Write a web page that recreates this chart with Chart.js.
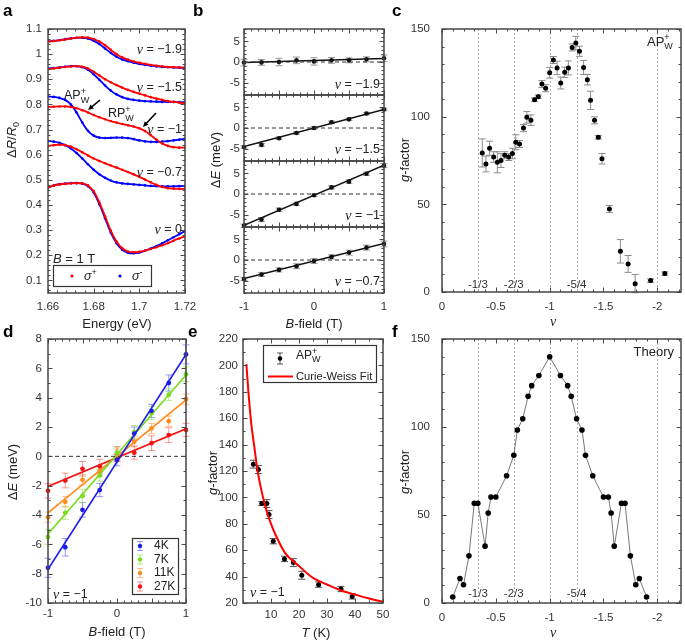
<!DOCTYPE html>
<html><head><meta charset="utf-8">
<script src="https://cdn.jsdelivr.net/npm/chart.js@4"></script>
<style>
html,body{margin:0;padding:0;background:#fff;}
#wrap{position:relative;width:685px;height:642px;overflow:hidden;background:#fff;}
#wrap canvas{position:absolute;left:0;top:0;}
</style></head><body><div id="wrap"></div>
<script>
// ---------------- DATA ----------------
// panel a : reflectance spectra (B = 1 T)
const energy = [1.66,1.6625,1.665,1.6675,1.67,1.6725,1.675,1.6775,1.68,1.6825,1.685,1.6875,1.69,1.6925,1.695,1.6975,1.7,1.7025,1.705,1.7075,1.71,1.7125,1.715,1.7175,1.72];
const sigPlus_nu19  = [1.050,1.052,1.055,1.058,1.062,1.065,1.067,1.066,1.060,1.050,1.035,1.017,1.000,0.987,0.978,0.971,0.966,0.961,0.957,0.954,0.951,0.949,0.948,0.947,0.946];
const sigMinus_nu19 = [1.050,1.053,1.056,1.060,1.063,1.065,1.065,1.062,1.053,1.040,1.022,1.005,0.990,0.979,0.972,0.966,0.961,0.957,0.954,0.951,0.949,0.948,0.947,0.946,0.946];
const sigPlus_nu15  = [0.940,0.943,0.946,0.949,0.951,0.952,0.950,0.943,0.930,0.915,0.900,0.888,0.877,0.867,0.858,0.850,0.843,0.836,0.829,0.823,0.818,0.813,0.810,0.807,0.805];
const sigMinus_nu15 = [0.943,0.945,0.947,0.950,0.952,0.952,0.948,0.938,0.920,0.898,0.875,0.855,0.840,0.829,0.822,0.818,0.815,0.813,0.812,0.811,0.810,0.810,0.810,0.809,0.809];
const sigPlus_nu10  = [0.790,0.791,0.792,0.792,0.790,0.785,0.777,0.768,0.758,0.749,0.741,0.734,0.728,0.722,0.717,0.712,0.705,0.694,0.678,0.660,0.645,0.635,0.630,0.628,0.628];
const sigMinus_nu10 = [0.832,0.830,0.826,0.818,0.800,0.768,0.728,0.695,0.676,0.668,0.666,0.667,0.668,0.668,0.666,0.662,0.657,0.653,0.651,0.651,0.652,0.654,0.657,0.660,0.663];
const sigPlus_nu07  = [0.635,0.638,0.640,0.638,0.632,0.622,0.610,0.597,0.585,0.575,0.566,0.557,0.549,0.540,0.531,0.522,0.512,0.501,0.490,0.480,0.472,0.467,0.465,0.464,0.464];
const sigMinus_nu07 = [0.655,0.652,0.647,0.638,0.625,0.607,0.585,0.562,0.540,0.522,0.508,0.497,0.490,0.486,0.484,0.482,0.480,0.478,0.476,0.475,0.474,0.474,0.474,0.475,0.476];
const sigPlus_nu0   = [0.470,0.477,0.482,0.484,0.486,0.487,0.486,0.478,0.455,0.410,0.355,0.298,0.255,0.228,0.215,0.212,0.214,0.219,0.225,0.232,0.240,0.248,0.258,0.267,0.276];
const sigMinus_nu0  = [0.468,0.478,0.483,0.485,0.487,0.487,0.485,0.475,0.450,0.403,0.347,0.290,0.248,0.222,0.210,0.208,0.211,0.218,0.227,0.237,0.248,0.260,0.272,0.284,0.296];
const aTicksX = [1.66,1.68,1.7,1.72];
const aTicksY = [0.1,0.2,0.3,0.4,0.5,0.6,0.7,0.8,0.9,1,1.1];

// panel b : Zeeman splitting vs B
const bField = [-1,-0.75,-0.5,-0.25,0,0.25,0.5,0.75,1];
const dE_nu19 = [-0.15,-0.1,0,0.4,0.15,0.4,0.4,0.65,0.9];
const err_nu19 = [0.8,0.7,0.9,0.8,0.9,0.7,0.6,0.6,0.8];
const fit_nu19 = [-0.15,0.85];
const dE_nu15 = [-4.6,-4.1,-2.5,-1.2,0,1.4,2.1,3.5,4.5];
const err_nu15 = [0.3,0.3,0.3,0.3,0.3,0.3,0.3,0.3,0.3];
const fit_nu15 = [-4.5,4.5];
const dE_nu10 = [-7.7,-6.2,-3.8,-2.4,-0.3,1.6,3.0,4.9,6.9];
const err_nu10 = [0.4,0.5,0.4,0.4,0.3,0.4,0.4,0.4,0.5];
const fit_nu10 = [-7.6,7.0];
const dE_nu07 = [-4.6,-3.5,-2.4,-1.5,-0.25,0.75,1.8,3.0,3.9];
const err_nu07 = [0.4,0.5,0.5,0.6,0.6,0.5,0.6,0.6,0.7];
const fit_nu07 = [-4.5,4.0];
const bTicksX = [-1,0,1];
const bTicksY = [-5,0,5];

// panel c : measured g-factor vs filling factor
const nuExp = [-0.374,-0.408,-0.442,-0.48,-0.514,-0.548,-0.583,-0.62,-0.654,-0.685,-0.72,-0.757,-0.788,-0.826,-0.86,-0.894,-0.928,-0.963,-1.0,-1.034,-1.069,-1.103,-1.14,-1.174,-1.209,-1.243,-1.277,-1.315,-1.35,-1.38,-1.417,-1.452,-1.486,-1.555,-1.657,-1.729,-1.794,-1.938,-2.07];
const gExp = [79.3,73,82,77,74,75,78,77,79,85.4,84.4,93.5,99.6,98,109.7,111.4,118.6,116.2,125,132.3,127.8,119.2,125.3,127.8,139.5,142,137.3,128.1,121.1,109.3,97.9,88.2,76,47.3,23.2,16,4.75,6.5,10.5];
const gErr = [8,4.5,4,3,6,4,2,2,3,4.3,2,2,3.3,3,1,1,2,2,3,2,3.8,3.4,3,4,2,3.8,2.9,4,3,5.2,2,1,3,2,6.7,4.8,5.2,1,1];
const fracLines = [-1/3,-2/3,-1,-5/4,-2];
const fracLabels = ['-1/3','-2/3','','-5/4',''];
const nuTicks = [0,-0.5,-1,-1.5,-2];
const gTicks = [0,50,100,150];

// panel d : splitting vs B at several temperatures (nu = -1)
const dE_4K  = [-7.6,-6.2,-3.65,-2.3,-0.25,1.55,3.1,5.0,6.95];
const err_4K = [0.65,0.6,0.5,0.45,0.4,0.45,0.45,0.55,0.65];
const fit_4K = [-7.7,6.95];
const dE_7K  = [-5.5,-3.85,-2.7,-1.3,0.25,1.65,2.95,4.2,5.6];
const err_7K = [0.5,0.45,0.45,0.4,0.4,0.45,0.45,0.4,0.5];
const fit_7K = [-5.3,5.55];
const dE_11K  = [-4.15,-3.1,-1.6,-1.0,0.1,1.0,1.9,2.4,3.9];
const err_11K = [0.35,0.35,0.35,0.35,0.4,0.35,0.35,0.35,0.35];
const fit_11K = [-3.85,3.85];
const dE_27K  = [-2.35,-1.65,-0.85,-0.7,0.15,0.25,0.9,1.45,1.8];
const err_27K = [0.5,0.5,0.5,0.5,0.5,0.45,0.5,0.5,0.45];
const fit_27K = [-2.05,1.88];
const tempLabels = ['4K','7K','11K','27K'];
const dTicksY = [-10,-8,-6,-4,-2,0,2,4,6,8];

// panel e : g-factor vs temperature
const tempK = [3.7,5.5,6.7,8.5,9.3,10.8,14.8,18,21,27,35,39];
const gT = [125.2,121.1,95.3,95.3,87,66.8,53.4,50.6,41,33.9,30.6,25];
const gTErr = [3,3,1.5,3,3,2,2,3,3,2,2,2];
const cwT = [1.2,2,3,4,5,6,8,10,12,15,20,25,30,35,40,45,50];
const cwG = [201,178,155,139,123,111,93,80,70,58,48,39,34,29.5,26.4,23.4,21];
const eTicksX = [10,20,30,40,50];
const eTicksY = [20,40,60,80,100,120,140,160,180,200,220];

// panel f : theory g-factor
const nuTh = [-0.1,-0.167,-0.2,-0.25,-0.3,-0.333,-0.4,-0.429,-0.455,-0.5,-0.6,-0.667,-0.7,-0.75,-0.8,-0.833,-0.9,-1.0,-1.1,-1.167,-1.2,-1.25,-1.3,-1.333,-1.4,-1.5,-1.545,-1.571,-1.6,-1.667,-1.7,-1.75,-1.8,-1.833,-1.9];
const gTh = [3.4,13.9,10.4,26.8,56.7,56.7,32.3,51.1,60.2,60.2,72.3,83.9,98.3,104.7,117.5,123.5,129.3,139.9,129.3,123.5,117.5,104.7,98.3,83.9,72.3,60.2,60.2,51.1,32.3,56.7,56.7,26.8,10.4,13.9,3.4];

// ---------------- HELPERS ----------------
const SANS = '"Liberation Sans", Arial, Helvetica, sans-serif';
const SERIF = '"Liberation Serif", "Times New Roman", serif';
const W = 685, H = 642;
const wrap = document.getElementById('wrap');
const pts = (xs, ys) => xs.map((x, i) => ({x, y: ys[i]}));

function rich(ctx, parts, x, y, o = {}) {
  const size = o.size || 12.5;
  ctx.save();
  ctx.translate(x, y);
  if (o.rot) ctx.rotate(o.rot);
  ctx.fillStyle = o.color || '#222';
  ctx.textBaseline = 'middle'; ctx.textAlign = 'left';
  const font = p => `${p.it ? 'italic ' : ''}${p.b ? 'bold ' : ''}${(p.sub || p.sup) ? Math.round(size * 0.72) : (p.big ? size + 1.5 : size)}px ${p.serif ? SERIF : SANS}`;
  const pos = []; let cur = 0, prevStart = 0;
  parts.forEach(p => {
    ctx.font = font(p);
    const w = ctx.measureText(p.t).width;
    const start = p.stack ? prevStart : cur;
    pos.push(start);
    cur = Math.max(cur, start + w);
    prevStart = start;
  });
  const x0 = o.align === 'center' ? -cur / 2 : o.align === 'right' ? -cur : 0;
  parts.forEach((p, i) => {
    ctx.font = font(p);
    const dy = p.sub ? size * 0.33 : p.sup ? -size * 0.38 : 0;
    ctx.fillText(p.t, x0 + pos[i], dy);
  });
  ctx.restore();
}
const NU = v => [{t: 'ν', it: 1, serif: 1, big: 1}, {t: ' = ' + v}];
const APW = [{t: 'AP'}, {t: '+', sup: 1}, {t: 'W', sub: 1, stack: 1}];
function letter(ctx, s, x, y) {
  ctx.save(); ctx.font = 'bold 17px ' + SANS; ctx.fillStyle = '#000';
  ctx.textBaseline = 'alphabetic'; ctx.fillText(s, x, y); ctx.restore();
}
function arrow(ctx, x1, y1, x2, y2) {
  ctx.save(); ctx.strokeStyle = '#000'; ctx.fillStyle = '#000'; ctx.lineWidth = 1.6;
  const a = Math.atan2(y2 - y1, x2 - x1), L = 6;
  ctx.beginPath(); ctx.moveTo(x1, y1); ctx.lineTo(x2 - Math.cos(a) * 3, y2 - Math.sin(a) * 3); ctx.stroke();
  ctx.beginPath(); ctx.moveTo(x2, y2);
  ctx.lineTo(x2 - L * Math.cos(a - 0.45), y2 - L * Math.sin(a - 0.45));
  ctx.lineTo(x2 - L * Math.cos(a + 0.45), y2 - L * Math.sin(a + 0.45));
  ctx.closePath(); ctx.fill(); ctx.restore();
}
function errBars(c) {
  const ctx = c.ctx, xs = c.scales.x, ys = c.scales.y;
  c.data.datasets.forEach(ds => {
    if (!ds.err) return;
    ctx.save(); ctx.strokeStyle = ds.errColor || '#999'; ctx.lineWidth = ds.errWidth || 1;
    ds.data.forEach((p, j) => {
      const x = xs.getPixelForValue(p.x);
      const y1 = ys.getPixelForValue(p.y - ds.err[j]), y2 = ys.getPixelForValue(p.y + ds.err[j]);
      const w = ds.cap || 3;
      ctx.beginPath();
      ctx.moveTo(x, y1); ctx.lineTo(x, y2);
      ctx.moveTo(x - w, y1); ctx.lineTo(x + w, y1);
      ctx.moveTo(x - w, y2); ctx.lineTo(x + w, y2);
      ctx.stroke();
    });
    ctx.restore();
  });
}
function frame(c, o) {
  const ctx = c.ctx, a = c.chartArea, xs = c.scales.x, ys = c.scales.y;
  ctx.save(); ctx.strokeStyle = '#4a4a4a'; ctx.lineWidth = 1;
  const ticksAt = (scale, vals, len, horiz) => {
    vals.forEach(v => {
      const p = Math.round(scale.getPixelForValue(v)) + 0.5;
      ctx.beginPath();
      if (horiz) { ctx.moveTo(p, a.bottom); ctx.lineTo(p, a.bottom - len); ctx.moveTo(p, a.top); ctx.lineTo(p, a.top + len); }
      else { ctx.moveTo(a.left, p); ctx.lineTo(a.left + len, p); ctx.moveTo(a.right, p); ctx.lineTo(a.right - len, p); }
      ctx.stroke();
    });
  };
  const minors = (scale, step) => {
    const lo = Math.min(scale.min, scale.max), hi = Math.max(scale.min, scale.max), out = [];
    for (let k = Math.ceil(lo / step - 1e-6); k <= Math.floor(hi / step + 1e-6); k++) out.push(k * step);
    return out;
  };
  ticksAt(xs, minors(xs, o.xMinor), 2.5, true);
  ticksAt(ys, minors(ys, o.yMinor), 2.5, false);
  ticksAt(xs, o.xMajor || o.xticks, 4.5, true);
  ticksAt(ys, o.yticks, 4.5, false);
  ctx.lineWidth = 1.5; ctx.strokeStyle = '#454545';
  ctx.strokeRect(a.left, a.top, a.right - a.left, a.bottom - a.top);
  ctx.restore();
}
function mkChart(o) {
  const cv = document.createElement('canvas');
  cv.width = W; cv.height = H; cv.style.width = W + 'px'; cv.style.height = H + 'px';
  wrap.appendChild(cv);
  const tickFont = {family: SANS, size: 11.5};
  const fx = o.fx || (v => String(v)), fy = o.fy || (v => String(v));
  return new Chart(cv, {
    type: 'line',
    data: {datasets: o.datasets},
    options: {
      responsive: false, animation: false, devicePixelRatio: 1, events: [],
      layout: {padding: {left: 0, top: o.t, right: W - o.r, bottom: 0}},
      plugins: {legend: {display: false}, tooltip: {enabled: false}},
      scales: {
        x: {type: 'linear', bounds: 'data', min: o.xmin, max: o.xmax, reverse: !!o.xrev,
          afterFit: s => { s.height = H - o.b; },
          afterBuildTicks: s => { s.ticks = o.xticks.map(v => ({value: v})); },
          grid: {display: false, drawTicks: false}, border: {display: false},
          ticks: {display: o.xlab !== false, padding: o.xpad ?? 7, color: '#333', font: tickFont,
                  autoSkip: false, maxRotation: 0, minRotation: 0, callback: v => fx(v)}},
        y: {type: 'linear', bounds: 'data', min: o.ymin, max: o.ymax,
          afterFit: s => { s.width = o.l; },
          afterBuildTicks: s => { s.ticks = o.yticks.map(v => ({value: v})); },
          grid: {display: false, drawTicks: false}, border: {display: false},
          ticks: {padding: o.ypad ?? 6, color: '#333', font: tickFont, autoSkip: false, callback: v => fy(v)}}
      }
    },
    plugins: [{id: 'deco',
      beforeDatasetsDraw: c => { if (o.before) o.before(c); errBars(c); },
      afterDatasetsDraw: c => { frame(c, o); if (o.after) o.after(c); }}]
  });
}
const lineDS = (data, color, extra = {}) => Object.assign({data, borderColor: color, backgroundColor: color,
  borderWidth: 1.5, pointRadius: 0, fill: false}, extra);
const ptDS = (data, color, extra = {}) => Object.assign({data, showLine: false, pointRadius: 2.4,
  pointBackgroundColor: color, pointBorderColor: color, pointBorderWidth: 0, clip: false}, extra);

// ---------------- PANEL a ----------------
const aSeries = [
  [sigMinus_nu19, sigPlus_nu19], [sigMinus_nu15, sigPlus_nu15], [sigMinus_nu10, sigPlus_nu10],
  [sigMinus_nu07, sigPlus_nu07], [sigMinus_nu0, sigPlus_nu0]];
const aDS = [];
aSeries.forEach(([m, p]) => {
  aDS.push(lineDS(pts(energy, p), '#ff0000', {borderWidth: 1.8, tension: 0.35, pointRadius: 1.3, pointBackgroundColor: '#ff0000', pointBorderWidth: 0}));
  aDS.push(lineDS(pts(energy, m), '#0000ff', {borderWidth: 1.8, tension: 0.35, pointRadius: 1.3, pointBackgroundColor: '#0000ff', pointBorderWidth: 0}));
});
mkChart({l: 48, r: 185, t: 29, b: 293, xmin: 1.66, xmax: 1.72, ymin: 0.05, ymax: 1.1,
  xticks: aTicksX, yticks: aTicksY, xMinor: 0.004, yMinor: 0.02, xpad: 7, ypad: 6,
  fx: v => String(Math.round(v * 1000) / 1000), fy: v => String(Math.round(v * 100) / 100),
  datasets: aDS,
  after: c => {
    const ctx = c.ctx;
    letter(ctx, 'a', 3, 16);
    rich(ctx, [{t: 'Δ'}, {t: 'R', it: 1}, {t: '/'}, {t: 'R', it: 1}, {t: '0', sub: 1}], 12, 140, {align: 'center', rot: -Math.PI / 2, size: 13});
    rich(ctx, [{t: 'Energy (eV)'}], 117, 324, {align: 'center', size: 13});
    rich(ctx, NU('\u22121.9'), 182, 50, {align: 'right'});
    rich(ctx, NU('\u22121.5'), 182, 88, {align: 'right'});
    rich(ctx, NU('\u22121'), 182, 130, {align: 'right'});
    rich(ctx, NU('\u22120.7'), 182, 173, {align: 'right'});
    rich(ctx, NU('0'), 182, 230, {align: 'right'});
    rich(ctx, APW, 64, 96, {size: 12.5});
    arrow(ctx, 100, 100, 88, 110);
    rich(ctx, [{t: 'RP'}, {t: '+', sup: 1}, {t: 'W', sub: 1, stack: 1}], 108, 114, {size: 12.5});
    arrow(ctx, 156, 113, 143, 127);
    rich(ctx, [{t: 'B', it: 1}, {t: ' = 1 T'}], 53, 259, {size: 13});
    ctx.save(); ctx.strokeStyle = '#333'; ctx.lineWidth = 1.2; ctx.strokeRect(53.5, 265.5, 98, 21);
    ctx.fillStyle = '#ff0000'; ctx.beginPath(); ctx.arc(72, 276, 1.6, 0, 7); ctx.fill();
    ctx.fillStyle = '#0000ff'; ctx.beginPath(); ctx.arc(120, 276, 1.6, 0, 7); ctx.fill(); ctx.restore();
    rich(ctx, [{t: 'σ', it: 1}, {t: '+', sup: 1}], 84, 277, {size: 12.5});
    rich(ctx, [{t: 'σ', it: 1}, {t: '-', sup: 1}], 132, 277, {size: 12.5});
  }});

// ---------------- PANEL b ----------------
const bSubs = [
  {t: 29, b: 95, d: dE_nu19, e: err_nu19, f: fit_nu19, lab: '\u22121.9', ly: 85},
  {t: 95, b: 161, d: dE_nu15, e: err_nu15, f: fit_nu15, lab: '\u22121.5', ly: 150},
  {t: 161, b: 227, d: dE_nu10, e: err_nu10, f: fit_nu10, lab: '\u22121', ly: 216},
  {t: 227, b: 293, d: dE_nu07, e: err_nu07, f: fit_nu07, lab: '\u22120.7', ly: 282}];
bSubs.forEach((s, i) => {
  mkChart({l: 244, r: 384, t: s.t, b: s.b, xmin: -1, xmax: 1, ymin: -8, ymax: 8,
    xticks: bTicksX, yticks: bTicksY, xMajor: [-1, -0.5, 0, 0.5, 1], xMinor: 0.1, yMinor: 1, xlab: i === 3, xpad: 7, ypad: 4,
    datasets: [
      lineDS([{x: -1, y: 0}, {x: 1, y: 0}], '#333', {borderWidth: 1, borderDash: [4, 3]}),
      lineDS([{x: -1, y: s.f[0]}, {x: 1, y: s.f[1]}], '#111', {borderWidth: 1.5}),
      ptDS(pts(bField, s.d), '#111', {err: s.e, errColor: '#999', cap: 3.5, pointRadius: 2.3})],
    after: c => {
      const ctx = c.ctx;
      rich(ctx, NU(s.lab), 380, s.ly, {align: 'right'});
      if (i === 0) letter(ctx, 'b', 193, 16);
      if (i === 3) {
        rich(ctx, [{t: 'Δ'}, {t: 'E', it: 1}, {t: ' (meV)'}], 216, 160, {align: 'center', rot: -Math.PI / 2, size: 13});
        rich(ctx, [{t: 'B', it: 1}, {t: '-field (T)'}], 314, 324, {align: 'center', size: 13});
      }
    }});
});

// ---------------- PANEL c ----------------
function fracDraw(c) {
  const ctx = c.ctx, xs = c.scales.x, a = c.chartArea;
  ctx.save(); ctx.strokeStyle = '#9a9a9a'; ctx.lineWidth = 0.8; ctx.setLineDash([2, 2]);
  fracLines.forEach(v => { const x = Math.round(xs.getPixelForValue(v)) + 0.5; ctx.beginPath(); ctx.moveTo(x, a.top); ctx.lineTo(x, a.bottom); ctx.stroke(); });
  ctx.restore();
}
function fracText(c, labelY) {
  const xs = c.scales.x;
  fracLines.forEach((v, i) => { if (fracLabels[i]) rich(c.ctx, [{t: fracLabels[i]}], xs.getPixelForValue(v), labelY, {align: 'center', size: 11.5, color: '#333'}); });
}
mkChart({l: 442, r: 683, t: 29, b: 292, xmin: -2.22, xmax: 0, xrev: true, ymin: 0, ymax: 150,
  xticks: nuTicks, yticks: gTicks, xMinor: 0.1, yMinor: 10, xpad: 8, ypad: 12,
  datasets: [ptDS(pts(nuExp, gExp), '#000', {err: gErr, errColor: '#8c8c8c', cap: 3.5, pointRadius: 2.5})],
  before: c => fracDraw(c),
  after: c => {
    const ctx = c.ctx;
    fracText(c, 285);
    letter(ctx, 'c', 392, 16);
    rich(ctx, APW, 647, 42, {size: 13});
    rich(ctx, [{t: 'g', it: 1}, {t: '-factor'}], 405, 160, {align: 'center', rot: -Math.PI / 2, size: 13});
    rich(ctx, [{t: 'ν', it: 1, serif: 1}], 553, 322, {align: 'center', size: 14});
  }});

// ---------------- PANEL d ----------------
const dSets = [
  {d: dE_4K, e: err_4K, f: fit_4K, c: '#1e1ee6', ec: 'rgba(70,70,255,0.55)'},
  {d: dE_7K, e: err_7K, f: fit_7K, c: '#78dc1e', ec: 'rgba(140,225,70,0.6)'},
  {d: dE_11K, e: err_11K, f: fit_11K, c: '#ff8c1e', ec: 'rgba(255,150,60,0.6)'},
  {d: dE_27K, e: err_27K, f: fit_27K, c: '#f51414', ec: 'rgba(245,70,70,0.55)'}];
const dDS = [lineDS([{x: -1, y: 0}, {x: 1, y: 0}], '#333', {borderWidth: 1, borderDash: [4, 3]})];
dSets.forEach(s => {
  dDS.push(lineDS([{x: -1, y: s.f[0]}, {x: 1, y: s.f[1]}], s.c, {borderWidth: 1.6}));
  dDS.push(ptDS(pts(bField, s.d), s.c, {err: s.e, errColor: s.ec, cap: 3.5, pointRadius: 2.4}));
});
mkChart({l: 48, r: 186, t: 339, b: 603, xmin: -1, xmax: 1, ymin: -10, ymax: 8,
  xticks: bTicksX, yticks: dTicksY, xMajor: [-1, -0.5, 0, 0.5, 1], xMinor: 0.1, yMinor: 1, xpad: 4, ypad: 6,
  datasets: dDS,
  after: c => {
    const ctx = c.ctx;
    letter(ctx, 'd', 3, 337);
    rich(ctx, [{t: 'Δ'}, {t: 'E', it: 1}, {t: ' (meV)'}], 13, 472, {align: 'center', rot: -Math.PI / 2, size: 13});
    rich(ctx, [{t: 'B', it: 1}, {t: '-field (T)'}], 117, 632, {align: 'center', size: 13});
    rich(ctx, NU('\u22121'), 53, 595);
    ctx.save(); ctx.fillStyle = '#fff'; ctx.fillRect(132, 538, 47, 57);
    ctx.strokeStyle = '#333'; ctx.lineWidth = 1.2; ctx.strokeRect(132.5, 538.5, 46, 56);
    dSets.forEach((s, i) => {
      const y = 546 + i * 13.5;
      ctx.strokeStyle = s.ec; ctx.lineWidth = 1;
      ctx.beginPath(); ctx.moveTo(140, y - 4.5); ctx.lineTo(140, y + 4.5);
      ctx.moveTo(137, y - 4.5); ctx.lineTo(143, y - 4.5); ctx.moveTo(137, y + 4.5); ctx.lineTo(143, y + 4.5); ctx.stroke();
      ctx.fillStyle = s.c; ctx.beginPath(); ctx.arc(140, y, 2.2, 0, 7); ctx.fill();
      rich(ctx, [{t: tempLabels[i]}], 154, y, {size: 12});
    });
    ctx.restore();
  }});

// ---------------- PANEL e ----------------
mkChart({l: 243, r: 383, t: 339, b: 603, xmin: 0, xmax: 50, ymin: 20, ymax: 220,
  xticks: eTicksX, yticks: eTicksY, xMinor: 5, yMinor: 10, xpad: 5, ypad: 5,
  datasets: [
    lineDS(pts(cwT, cwG), '#ff0000', {borderWidth: 2, cubicInterpolationMode: 'monotone'}),
    ptDS(pts(tempK, gT), '#000', {err: gTErr, errColor: '#555', cap: 3.5, pointRadius: 2.5})],
  after: c => {
    const ctx = c.ctx;
    letter(ctx, 'e', 188, 337);
    rich(ctx, [{t: 'g', it: 1}, {t: '-factor'}], 213, 473, {align: 'center', rot: -Math.PI / 2, size: 13});
    rich(ctx, [{t: 'T', it: 1}, {t: ' (K)'}], 316, 633, {align: 'center', size: 13});
    rich(ctx, NU('\u22121'), 250, 593);
    ctx.save(); ctx.fillStyle = '#fff'; ctx.fillRect(263, 345, 114, 38);
    ctx.strokeStyle = '#333'; ctx.lineWidth = 1.2; ctx.strokeRect(263.5, 345.5, 113, 37);
    ctx.strokeStyle = '#555'; ctx.lineWidth = 1;
    ctx.beginPath(); ctx.moveTo(280, 353); ctx.lineTo(280, 364); ctx.moveTo(277, 353); ctx.lineTo(283, 353);
    ctx.moveTo(277, 364); ctx.lineTo(283, 364); ctx.stroke();
    ctx.fillStyle = '#000'; ctx.beginPath(); ctx.arc(280, 358.5, 2.3, 0, 7); ctx.fill();
    ctx.strokeStyle = '#ff0000'; ctx.lineWidth = 2; ctx.beginPath(); ctx.moveTo(268, 376.5); ctx.lineTo(293, 376.5); ctx.stroke();
    ctx.restore();
    rich(ctx, APW, 296, 356, {size: 12});
    rich(ctx, [{t: 'Curie-Weiss Fit'}], 296, 376.5, {size: 11.2});
  }});

// ---------------- PANEL f ----------------
mkChart({l: 442, r: 683, t: 339, b: 603, xmin: -2.22, xmax: 0, xrev: true, ymin: 0, ymax: 150,
  xticks: nuTicks, yticks: gTicks, xMinor: 0.1, yMinor: 10, xpad: 8, ypad: 12,
  datasets: [lineDS(pts(nuTh, gTh), '#555', {borderWidth: 0.8, pointRadius: 2.8, pointBackgroundColor: '#000', pointBorderWidth: 0, clip: false})],
  before: c => fracDraw(c),
  after: c => {
    const ctx = c.ctx;
    fracText(c, 594);
    letter(ctx, 'f', 392, 337);
    rich(ctx, [{t: 'Theory'}], 674, 352, {align: 'right', size: 13});
    rich(ctx, [{t: 'g', it: 1}, {t: '-factor'}], 405, 472, {align: 'center', rot: -Math.PI / 2, size: 13});
    rich(ctx, [{t: 'ν', it: 1, serif: 1}], 553, 633, {align: 'center', size: 14});
  }});
</script></body></html>
